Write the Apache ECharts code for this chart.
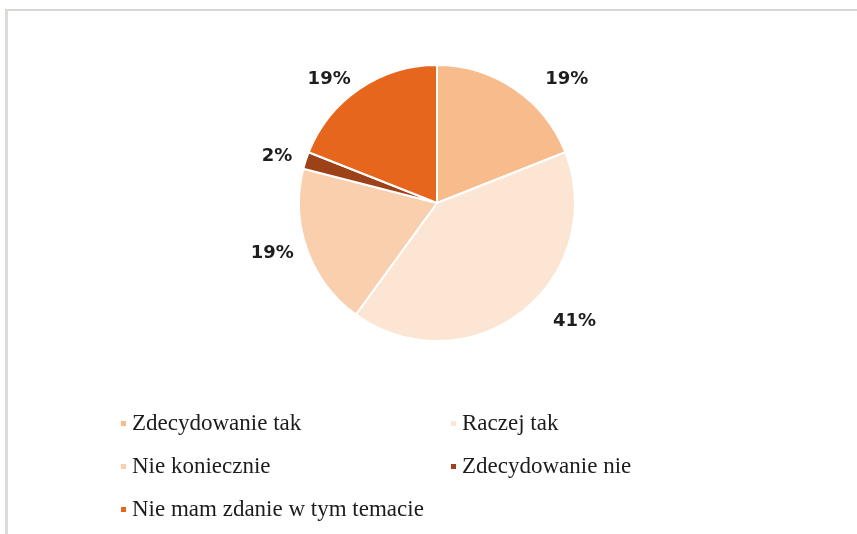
<!DOCTYPE html>
<html>
<head>
<meta charset="utf-8">
<script src="https://cdn.jsdelivr.net/npm/echarts@6/dist/echarts.min.js"></script>
<style>
  html, body { margin: 0; padding: 0; background: #ffffff; }
  #frame { position: absolute; left: 5px; top: 9px; width: 860px; height: 540px;
           border-top: 2px solid #d8d5d2; border-left: 3px solid #dedbd8; }
  #chart { position: absolute; left: 0; top: 0; width: 857px; height: 534px; }
</style>
</head>
<body>
<div id="frame"></div>
<div id="chart"></div>
<script>
// Categories (legend order) and percentage values
const categories = [
  'Zdecydowanie tak',
  'Raczej tak',
  'Nie koniecznie',
  'Zdecydowanie nie',
  'Nie mam zdanie w tym temacie'
];
const values = [19, 41, 19, 2, 19];
const sliceColors = ['#f7bb8c', '#fce5d2', '#f9cfae', '#9c4118', '#e7661e'];

const legendLeftColumn = ['Zdecydowanie tak', 'Nie koniecznie', 'Nie mam zdanie w tym temacie'];
const legendRightColumn = ['Raczej tak', 'Zdecydowanie nie'];

const chart = echarts.init(document.getElementById('chart'), null, { renderer: 'canvas' });

const legendBase = {
  orient: 'vertical',
  icon: 'rect',
  itemWidth: 7,
  itemHeight: 7,
  itemGap: 20,
  selectedMode: false,
  textStyle: {
    fontFamily: '"Liberation Serif", "Times New Roman", serif',
    fontSize: 23,
    lineHeight: 23,
    color: '#1c1c1c'
  }
};

chart.setOption({
  animation: false,
  backgroundColor: 'transparent',
  color: sliceColors,
  legend: [
    Object.assign({}, legendBase, { left: 114, top: 407, data: legendLeftColumn }),
    Object.assign({}, legendBase, { left: 444, top: 407, data: legendRightColumn })
  ],
  series: [{
    type: 'pie',
    center: [437, 203],
    radius: 138,
    startAngle: 90,
    clockwise: true,
    avoidLabelOverlap: false,
    emphasis: { disabled: true },
    itemStyle: { borderColor: '#ffffff', borderWidth: 2 },
    label: {
      show: true,
      position: 'outside',
      formatter: p => Math.round(p.percent) + '%',
      fontFamily: '"DejaVu Sans", sans-serif',
      fontWeight: 'bold',
      fontSize: 18,
      color: '#1e1e1e',
      distanceToLabelLine: 5
    },
    labelLine: { show: false, length: 12, length2: 8 },
    labelLayout: { dx: 11 },
    data: categories.map((name, i) => ({ name: name, value: values[i] }))
  }]
});
</script>
</body>
</html>
